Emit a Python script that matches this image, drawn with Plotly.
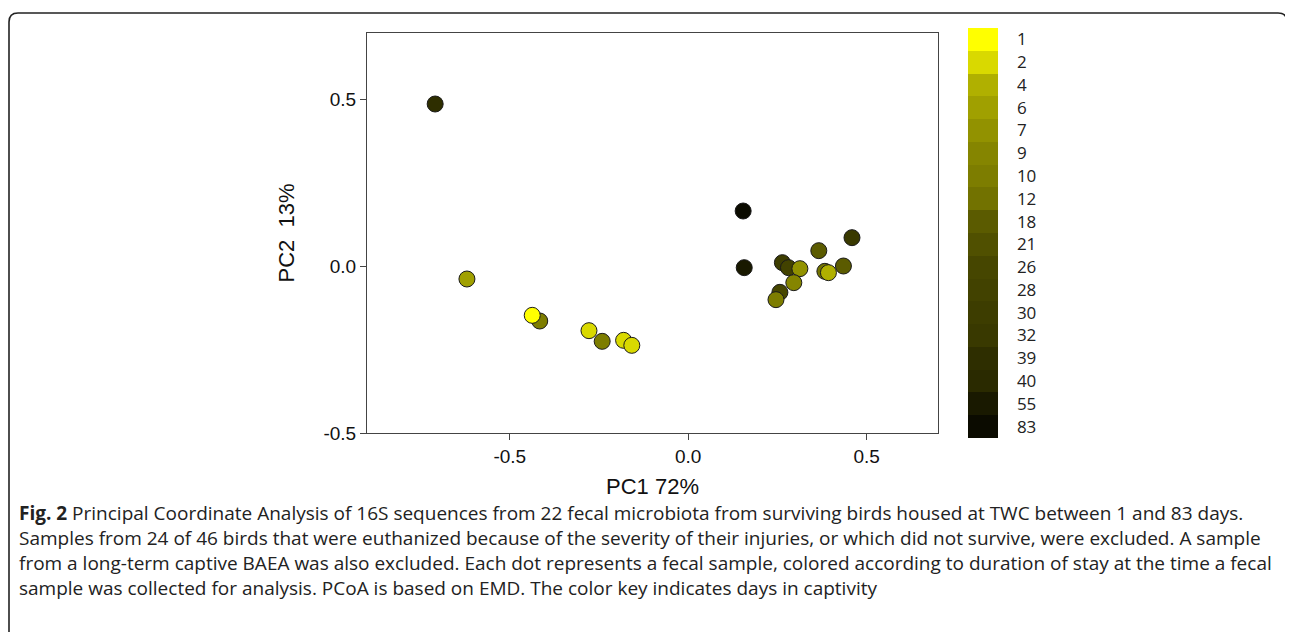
import plotly.graph_objects as go

# ---- data ----
pc1 = [-0.709, -0.620, -0.416, -0.437, -0.278, -0.241, -0.181, -0.158,
       0.154, 0.157, 0.264, 0.281, 0.313, 0.296, 0.257, 0.246,
       0.366, 0.383, 0.393, 0.435, 0.459]
pc2 = [0.487, -0.038, -0.164, -0.147, -0.193, -0.225, -0.222, -0.237,
       0.166, -0.004, 0.011, -0.004, -0.007, -0.049, -0.078, -0.100,
       0.047, -0.015, -0.019, 0.001, 0.086]
days = [39, 6, 10, 1, 2, 10, 2, 2,
        83, 55, 30, 28, 7, 9, 26, 10,
        18, 12, 4, 18, 32]

key_labels = [1, 2, 4, 6, 7, 9, 10, 12, 18, 21, 26, 28, 30, 32, 39, 40, 55, 83]
key_colors = ["#ffff00", "#d9d900", "#b0b000", "#a0a000", "#929200", "#858500",
              "#7d7d00", "#727200", "#5b5b00", "#505000", "#464600", "#424200",
              "#3d3d00", "#393900", "#2e2e00", "#2a2a00", "#191900", "#0b0b00"]

caption_lines = [
    "<b>Fig. 2</b> Principal Coordinate Analysis of 16S sequences from 22 fecal microbiota from surviving birds housed at TWC between 1 and 83 days.",
    "Samples from 24 of 46 birds that were euthanized because of the severity of their injuries, or which did not survive, were excluded. A sample",
    "from a long-term captive BAEA was also excluded. Each dot represents a fecal sample, colored according to duration of stay at the time a fecal",
    "sample was collected for analysis. PCoA is based on EMD. The color key indicates days in captivity",
]

# ---- discrete colour scale: index 0 = darkest (83 days) at bottom ----
n = len(key_labels)
rev_colors = key_colors[::-1]
colorscale = []
for k, c in enumerate(rev_colors):
    colorscale.append([k / n, c])
    colorscale.append([(k + 1) / n, c])

def cval(d):
    i = key_labels.index(d)
    return (n - 1 - i) + 0.5

marker_vals = [cval(d) for d in days]

# page body has an 8px margin; work in reference pixel coords minus that
OFF = 8
W, H = 1293 - OFF, 632 - OFF
PL, PR, PT, PB = 367, 938, 33, 433          # plot frame in reference pixels
ml, mr, mt, mb = PL - OFF, W - (PR - OFF), PT - OFF, H - (PB - OFF)
pw, ph = PR - PL, PB - PT

def px(xref_px):
    return (xref_px - PL) / pw

def py(yref_px):
    return (PB - yref_px) / ph

fig = go.Figure()
fig.add_trace(go.Scatter(
    x=pc1, y=pc2, mode="markers",
    marker=dict(
        size=16, color=marker_vals, colorscale=colorscale, cmin=0, cmax=n,
        line=dict(color="#1a1a1a", width=1),
        showscale=True,
        colorbar=dict(
            xref="paper", yref="paper",
            x=px(968), xanchor="left",
            y=py(233), yanchor="middle",
            len=410, lenmode="pixels", thickness=30, thicknessmode="pixels",
            outlinewidth=0, xpad=0, ypad=0,
            tickvals=[cval(d) for d in key_labels],
            ticktext=[str(d) for d in key_labels],
            ticks="outside", ticklen=16, tickcolor="rgba(0,0,0,0)",
            tickfont=dict(family="Open Sans", size=17, color="#222"),
        ),
    ),
    hoverinfo="x+y",
    showlegend=False,
))

axis_common = dict(
    showgrid=False, zeroline=False, showline=True, linecolor="#444", linewidth=1,
    mirror=True, ticks="outside", ticklen=6, tickcolor="#444",
    tickfont=dict(family="Liberation Sans", size=19, color="#111"),
)

fig.update_layout(
    width=W, height=H,
    margin=dict(l=ml, r=mr, t=mt, b=mb, pad=0),
    paper_bgcolor="white", plot_bgcolor="white",
    xaxis=dict(range=[-0.9, 0.7], tickvals=[-0.5, 0.0, 0.5],
               ticktext=["-0.5", "0.0", "0.5"],
               title=dict(text="PC1 72%", font=dict(family="Liberation Sans", size=22, color="#111"),
                          standoff=12),
               **axis_common),
    yaxis=dict(range=[-0.5, 0.7], tickvals=[-0.5, 0.0, 0.5],
               ticktext=["-0.5", "0.0", "0.5"],
               title=dict(text="PC2  13%", font=dict(family="Liberation Sans", size=22, color="#111"),
                          standoff=22),
               **axis_common),
)

# outer rounded frame (open at bottom)
L, R, T, B = 9, 1287, 13, 660
r = 9
path = (f"M {px(L)},{py(B)} L {px(L)},{py(T + r)} Q {px(L)},{py(T)} {px(L + r)},{py(T)} "
        f"L {px(R - r)},{py(T)} Q {px(R)},{py(T)} {px(R)},{py(T + r)} L {px(R)},{py(B)}")
fig.add_shape(type="path", path=path, xref="paper", yref="paper",
              line=dict(color="#222", width=1.6), layer="above")

line_y = [513, 538, 563, 588]
for txt, yy in zip(caption_lines, line_y):
    fig.add_annotation(text=txt, xref="paper", yref="paper",
                       x=px(17), y=py(yy), xanchor="left", yanchor="middle",
                       showarrow=False, align="left",
                       font=dict(family="Open Sans", size=19, color="#222"))

fig.write_html("out.html")
